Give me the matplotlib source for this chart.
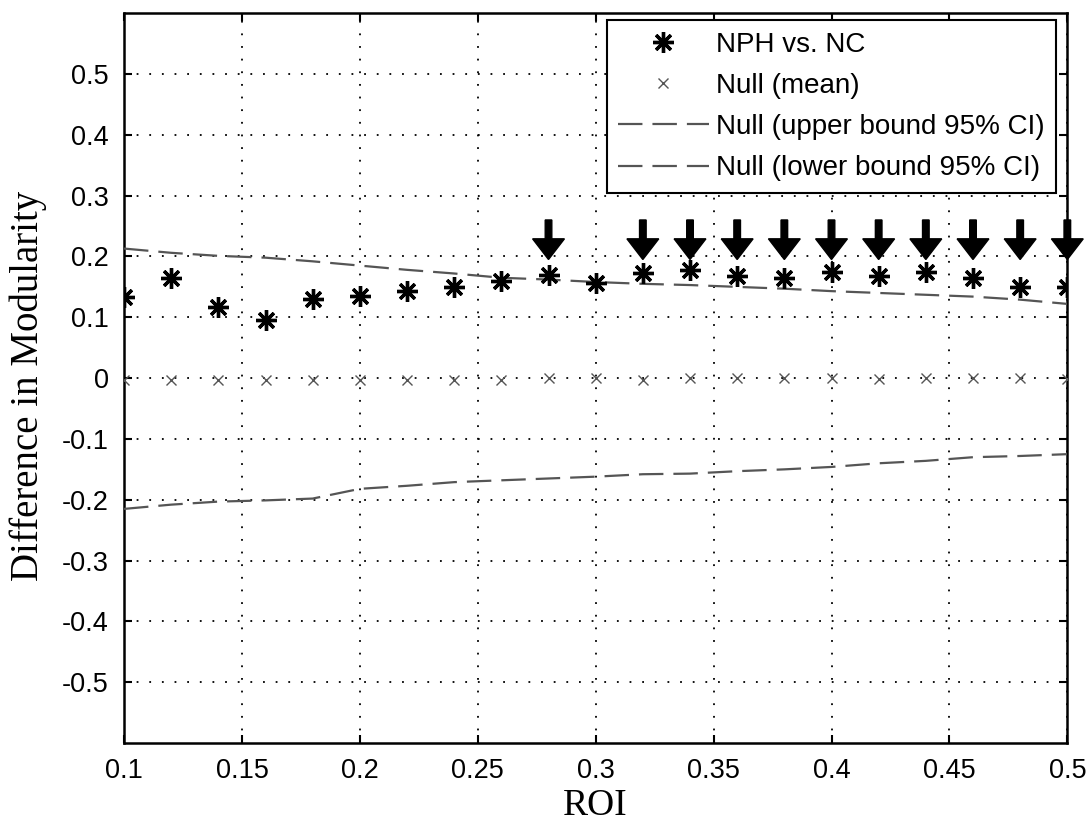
import numpy as np
import matplotlib
matplotlib.use("Agg")
import matplotlib.pyplot as plt

# ROI thresholds
roi = [0.10, 0.12, 0.14, 0.16, 0.18, 0.20, 0.22, 0.24, 0.26, 0.28, 0.30,
       0.32, 0.34, 0.36, 0.38, 0.40, 0.42, 0.44, 0.46, 0.48, 0.50]

# observed difference in modularity (NPH vs. NC)
nph_vs_nc = [0.134, 0.165, 0.117, 0.096, 0.130, 0.135, 0.144, 0.149, 0.160, 0.170, 0.157,
             0.173, 0.178, 0.168, 0.165, 0.174, 0.168, 0.174, 0.165, 0.150, 0.150]

# null distribution
null_mean = [-0.003, -0.003, -0.003, -0.003, -0.003, -0.003, -0.003, -0.003, -0.003, 0.0, 0.001,
             -0.003, 0.0, 0.0, 0.0, 0.0, -0.001, 0.0, 0.0, 0.0, -0.002]
null_upper = [0.213, 0.206, 0.201, 0.198, 0.192, 0.185, 0.178, 0.172, 0.165, 0.162, 0.158,
              0.155, 0.153, 0.150, 0.147, 0.143, 0.140, 0.137, 0.134, 0.129, 0.122]
null_lower = [-0.215, -0.208, -0.203, -0.201, -0.198, -0.182, -0.177, -0.171, -0.168, -0.165, -0.162,
              -0.158, -0.157, -0.153, -0.150, -0.146, -0.140, -0.136, -0.130, -0.128, -0.125]

# ROIs flagged as significant
significant = [0.28, 0.32, 0.34, 0.36, 0.38, 0.40, 0.42, 0.44, 0.46, 0.48, 0.50]

tick_font = "Liberation Sans"
label_font = "Liberation Serif"

fig = plt.figure(figsize=(10.88, 8.22), dpi=100)
ax = fig.add_axes([0.114, 0.096, 0.867, 0.888])

ax.plot(roi, nph_vs_nc, linestyle="none", marker=(8, 2, 0), markersize=15,
        markeredgewidth=2.4, color="black", label="NPH vs. NC", zorder=4)
ax.plot(roi, null_mean, linestyle="none", marker="x", markersize=7,
        markeredgewidth=1.0, color="#555555", label="Null (mean)", zorder=3)
ax.plot(roi, null_upper, color="#555555", linewidth=1.6, dashes=(11, 4.5),
        label="Null (upper bound 95% CI)", zorder=3)
ax.plot(roi, null_lower, color="#555555", linewidth=1.6, dashes=(11, 4.5),
        label="Null (lower bound 95% CI)", zorder=3)

for x in significant:
    ax.arrow(x, 0.26, 0, -0.065, width=0.0028, head_width=0.0135, head_length=0.034,
             length_includes_head=True, color="black", clip_on=False, zorder=5)

ax.set_xlim(0.1, 0.5)
ax.set_ylim(-0.6, 0.6)
ax.set_xticks([0.1, 0.15, 0.2, 0.25, 0.3, 0.35, 0.4, 0.45, 0.5])
ax.set_xticklabels(["0.1", "0.15", "0.2", "0.25", "0.3", "0.35", "0.4", "0.45", "0.5"])
ax.set_yticks([-0.5, -0.4, -0.3, -0.2, -0.1, 0, 0.1, 0.2, 0.3, 0.4, 0.5])
ax.set_yticklabels(["-0.5", "-0.4", "-0.3", "-0.2", "-0.1", "0", "0.1", "0.2", "0.3", "0.4", "0.5"])

ax.grid(True, color="black", linewidth=1.3, linestyle=(0, (1, 6)))
ax.tick_params(direction="in", length=6, width=1.5, top=True, right=True,
               labelsize=19.5, pad=11)
for lab in ax.get_xticklabels() + ax.get_yticklabels():
    lab.set_fontfamily(tick_font)
for sp in ax.spines.values():
    sp.set_linewidth(1.8)

ax.set_xlabel("ROI", fontfamily=label_font, fontsize=27)
ax.set_ylabel("Difference in Modularity", fontfamily=label_font, fontsize=28)
ax.xaxis.set_label_coords(0.5, -0.062)
ax.yaxis.set_label_coords(-0.082, 0.489)

leg = ax.legend(loc="upper right", prop={"family": tick_font, "size": 20},
                fancybox=False, framealpha=1, edgecolor="black", handlelength=3.3,
                handletextpad=0.25, labelspacing=0.55, borderpad=0.4, borderaxespad=0,
                bbox_to_anchor=(0.988, 0.99))
leg.get_frame().set_linewidth(1.5)

fig.savefig("out.png", dpi=100)
